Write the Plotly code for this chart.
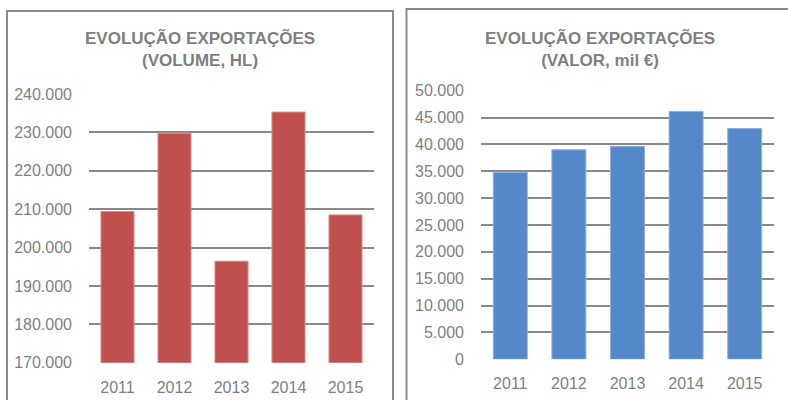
import plotly.graph_objs as go
from plotly.subplots import make_subplots

# data
years = ["2011", "2012", "2013", "2014", "2015"]
volume_hl = [209400, 229800, 196450, 235300, 208500]
valor_mil_eur = [34800, 39000, 39650, 46150, 42950]

W, H = 788, 400
GREY = "#7f7f7f"
GRID = "#898989"
FONT = "Liberation Sans Narrow, Arial Narrow, Liberation Sans, Arial, sans-serif"


def px(x):
    return x / W


def py(y):
    return 1 - y / H


fig = make_subplots(rows=1, cols=2)

fig.add_trace(go.Bar(x=years, y=volume_hl, marker=dict(color="#c0504d", line=dict(color="#d98b89", width=1))),
              row=1, col=1)
fig.add_trace(go.Bar(x=years, y=valor_mil_eur, marker=dict(color="#5588c8", line=dict(color="#8fb2dc", width=1))),
              row=1, col=2)

axis_common = dict(showline=False, zeroline=False, ticks="", fixedrange=True, automargin=False,
                   tickfont=dict(family=FONT, size=16, color=GREY))

fig.update_xaxes(type="category", showgrid=False, ticklabelstandoff=13, **axis_common)
fig.update_yaxes(showgrid=True, gridcolor=GRID, gridwidth=2, tickformat=",d",
                 ticklabelstandoff=16, **axis_common)

fig.update_layout(
    xaxis=dict(domain=[px(89), px(374)]),
    yaxis=dict(domain=[py(362.7), py(94)], range=[170000, 240000], dtick=10000),
    xaxis2=dict(domain=[px(481), px(774)]),
    yaxis2=dict(domain=[py(359.3), py(90.7)], range=[0, 50000], dtick=5000),
)

# titles
titles = [(200, "EVOLUÇÃO EXPORTAÇÕES<br>(VOLUME, HL)"), (600, "EVOLUÇÃO EXPORTAÇÕES<br>(VALOR, mil €)")]
for cx, txt in titles:
    fig.add_annotation(x=px(cx), y=py(49), xref="paper", yref="paper", text="<b>" + txt + "</b>",
                       showarrow=False, xanchor="center", yanchor="middle", align="center",
                       font=dict(family=FONT, size=17, color=GREY))

# panel borders
fig.add_shape(type="rect", xref="paper", yref="paper", x0=px(7), x1=px(393), y0=py(410), y1=py(11),
              line=dict(color="#8a8a8a", width=2))
fig.add_shape(type="rect", xref="paper", yref="paper", x0=px(406.5), x1=px(800), y0=py(410), y1=py(9),
              line=dict(color="#8a8a8a", width=2))

fig.update_layout(
    width=W, height=H,
    margin=dict(l=0, r=0, t=0, b=0),
    bargap=0.42,
    separators=",.",
    showlegend=False,
    plot_bgcolor="white",
    paper_bgcolor="white",
)

# page has a default 8px body margin, drop it so the figure sits at the corner
fig.write_html("out.html", config={"displayModeBar": False},
               post_script="document.body.style.margin='0';")
